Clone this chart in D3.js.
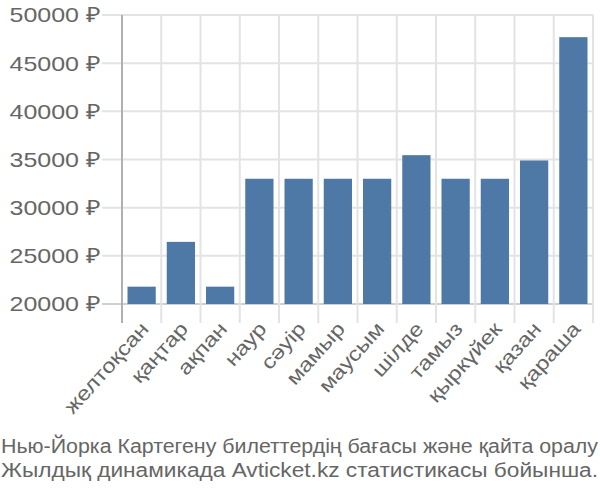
<!DOCTYPE html>
<html><head><meta charset="utf-8">
<script src="https://cdn.jsdelivr.net/npm/d3@7"></script>
<style>body{margin:0;background:#fff}svg{display:block}text{font-family:"Liberation Sans",Arial,sans-serif;fill:#666}</style>
</head><body><svg id="c" width="600" height="500"></svg>
<script>
const categories = ["желтоқсан","қаңтар","ақпан","наур","сәуір","мамыр","маусым","шілде","тамыз","қыркүйек","қазан","қараша"];
const prices = [21800,26450,21800,33000,33000,33000,33000,35450,33000,33000,34900,47700];
const yTicks = [20000,25000,30000,35000,40000,45000,50000];
const captionLines = ["Нью-Йорка Картегену билеттердің бағасы және қайта оралу","Жылдық динамикада Avticket.kz статистикасы бойынша."];

const svg = d3.select("#c");
const L=122,R=593,T=15,B=304;
const SX=1.19;
const x = d3.scaleBand().domain(categories).range([L,R]).paddingInner(0.28).paddingOuter(0.14);
const y = d3.scaleLinear().domain([20000,50000]).range([B,T]);
const grid = svg.append("g");
grid.selectAll("line.h").data(yTicks).join("line")
  .attr("x1",102).attr("x2",R).attr("y1",d=>y(d)).attr("y2",d=>y(d))
  .attr("stroke",d=>d===20000?"#cfcfcf":"#e3e3e3").attr("stroke-width",2);
const step = x.step();
const bounds = d3.range(categories.length+1).map(i=>L+i*step);
grid.selectAll("line.v").data(bounds).join("line")
  .attr("x1",d=>d).attr("x2",d=>d).attr("y1",T).attr("y2",323)
  .attr("stroke",(d,i)=>i===0?"#b0b0b0":"#e3e3e3").attr("stroke-width",2);
svg.append("g").selectAll("rect").data(prices).join("rect")
  .attr("x",(d,i)=>x(categories[i])).attr("width",x.bandwidth())
  .attr("y",d=>y(d)).attr("height",d=>B-y(d))
  .attr("fill","#4e79a7");
svg.append("g").selectAll("text").data(yTicks).join("text")
  .attr("transform",d=>`translate(100,${y(d)}) scale(${SX},1)`)
  .attr("dy","0.35em").attr("text-anchor","end")
  .attr("font-size",21).text(d=>d+" ₽");
svg.append("g").selectAll("text").data(categories).join("text")
  .attr("text-anchor","end").attr("font-size",20).attr("dy","0.35em")
  .attr("transform",d=>`translate(${x(d)+x.bandwidth()/2+3},${325}) rotate(-48) scale(${SX},1)`)
  .text(d=>d);
svg.append("g").selectAll("text").data(captionLines).join("text")
  .attr("x",1).attr("y",(d,i)=>453+i*24).attr("font-size",20)
  .attr("textLength",597).attr("lengthAdjust","spacingAndGlyphs").text(d=>d);
</script></body></html>
